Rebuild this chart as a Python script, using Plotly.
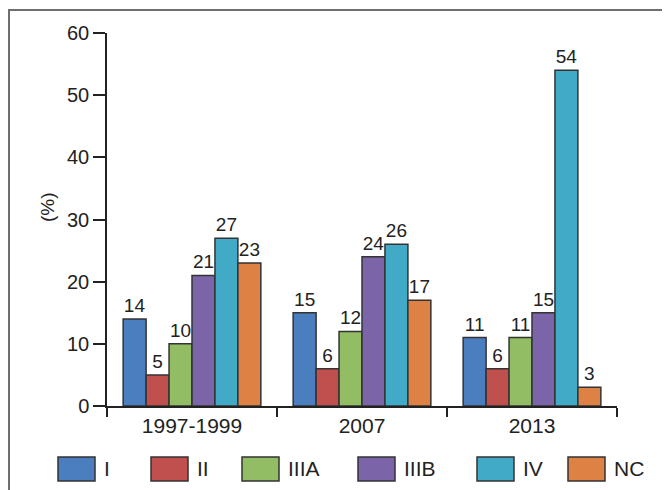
import plotly.graph_objects as go

categories = ["1997-1999", "2007", "2013"]
series_names = ["I", "II", "IIIA", "IIIB", "IV", "NC"]
values_I = [14, 15, 11]
values_II = [5, 6, 6]
values_IIIA = [10, 12, 11]
values_IIIB = [21, 24, 15]
values_IV = [27, 26, 54]
values_NC = [23, 17, 3]
y_ticks = [0, 10, 20, 30, 40, 50, 60]

series_values = [values_I, values_II, values_IIIA, values_IIIB, values_IV, values_NC]
colors = ["#4a7ebf", "#c0504d", "#93bd64", "#7b64a8", "#40aac7", "#dd8244"]

# page body has an 8px margin; work in screen pixels and subtract it
OFF = 8
W, H = 670 - OFF, 490 - OFF
L, R, T, B = 107 - OFF, 53, 33 - OFF, 84
pw, ph = W - L - R, H - T - B

def px_x(x):
    return (x - OFF - L) / pw

def px_y(y):
    return (H - B - (y - OFF)) / ph

fig = go.Figure()
for name, vals, col in zip(series_names, series_values, colors):
    fig.add_trace(go.Bar(
        x=categories, y=vals, name=name,
        marker=dict(color=col, line=dict(color="#333333", width=1.5)),
        text=[str(v) for v in vals], textposition="outside",
        textfont=dict(family="Liberation Sans, Arial", size=19, color="#222"),
        cliponaxis=False, showlegend=False,
    ))

shapes = []
annotations = []
# outer frame (left edge kept just inside the figure)
shapes.append(dict(type="rect", xref="paper", yref="paper",
                   x0=px_x(9), x1=px_x(700), y0=px_y(520), y1=px_y(10),
                   line=dict(color="#6e6e6e", width=2), fillcolor="rgba(0,0,0,0)", layer="below"))

# legend
legend_box_x = [58, 151, 242, 358, 477, 568]
box_w = 37
for name, col, bx in zip(series_names, colors, legend_box_x):
    shapes.append(dict(type="rect", xref="paper", yref="paper",
                       x0=px_x(bx), x1=px_x(bx + box_w), y0=px_y(481), y1=px_y(457),
                       line=dict(color="#333333", width=1.5), fillcolor=col))
    annotations.append(dict(xref="paper", yref="paper", x=px_x(bx + box_w + 7), y=px_y(469),
                            text=name, showarrow=False, xanchor="left", yanchor="middle",
                            font=dict(family="Liberation Sans, Arial", size=21, color="#222")))

annotations.append(dict(xref="paper", yref="paper", x=px_x(47), y=px_y(207),
                        text="(%)", showarrow=False, textangle=-90,
                        xanchor="center", yanchor="middle",
                        font=dict(family="Liberation Sans, Arial", size=19, color="#222")))

fig.update_layout(
    width=W, height=H,
    margin=dict(l=L, r=R, t=T, b=B),
    paper_bgcolor="white", plot_bgcolor="white",
    barmode="group", bargap=0.19, bargroupgap=0,
    font=dict(family="Liberation Sans, Arial", size=20, color="#222"),
    shapes=shapes, annotations=annotations,
    xaxis=dict(
        type="category", range=[-0.5, 2.5],
        showline=True, linecolor="#222", linewidth=1.5,
        ticks="outside", tickson="boundaries", ticklen=9, tickwidth=1.5, tickcolor="#222",
        showgrid=False, zeroline=False,
        tickfont=dict(size=21, color="#222"),
    ),
    yaxis=dict(
        range=[0, 60], tickvals=y_ticks,
        showline=True, linecolor="#222", linewidth=1.5,
        ticks="outside", ticklen=12, tickwidth=1.5, tickcolor="#222",
        showgrid=False, zeroline=False,
        tickfont=dict(size=20, color="#222"),
    ),
)

fig.write_html("out.html")
